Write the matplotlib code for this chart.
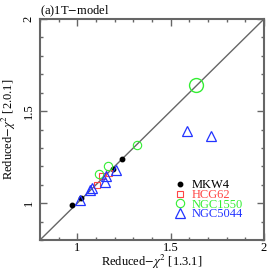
import matplotlib
matplotlib.use("Agg")
import matplotlib.pyplot as plt
from matplotlib.ticker import MultipleLocator

plt.rcParams["font.family"] = ["Liberation Serif", "DejaVu Serif"]
plt.rcParams["mathtext.fontset"] = "stix"

# values: (x = [1.3.1], y = [2.0.1])
mkw4_x = [0.972, 1.022, 1.19, 1.24]
mkw4_y = [0.99, 1.026, 1.185, 1.24]

hcg62_x = [1.108, 1.133, 1.168]
hcg62_y = [1.10, 1.148, 1.166]

ngc1550_x = [1.116, 1.162, 1.32]
ngc1550_y = [1.16, 1.202, 1.317]
ngc1550_big_x = [1.637]
ngc1550_big_y = [1.64]

ngc5044_x = [1.016, 1.07, 1.08, 1.146, 1.152, 1.205, 1.59, 1.716]
ngc5044_y = [1.018, 1.072, 1.082, 1.115, 1.150, 1.182, 1.39, 1.362]

names = ["MKW4", "HCG62", "NGC1550", "NGC5044"]

lim = [0.8, 2.0]
grey = "#666666"
red = "#ff4444"
green = "#33ee33"
blue = "#2233ff"

fig = plt.figure(figsize=(2.74, 2.70), dpi=100)
ax = fig.add_axes([40 / 274, 30 / 270, 224 / 274, 221 / 270])

ax.plot(lim, lim, color=grey, lw=1.0, zorder=1)

ax.plot(mkw4_x, mkw4_y, "o", ms=3.2, color="black", mec="black", zorder=3)
ax.plot(hcg62_x, hcg62_y, "s", ms=5.0, mfc="none", mec=red, mew=0.8, zorder=3)
ax.plot(ngc1550_x, ngc1550_y, "o", ms=6.0, mfc="none", mec=green, mew=0.8, zorder=3)
ax.plot(ngc1550_big_x, ngc1550_big_y, "o", ms=10.0, mfc="none", mec=green, mew=1.0, zorder=3)
ax.plot(ngc5044_x, ngc5044_y, "^", ms=7.0, mfc="none", mec=blue, mew=0.9, zorder=3)

ax.set_xlim(lim)
ax.set_ylim(lim)
ax.xaxis.set_minor_locator(MultipleLocator(0.1))
ax.yaxis.set_minor_locator(MultipleLocator(0.1))
ax.set_xticks([1, 1.5, 2])
ax.set_xticklabels(["1", "1.5", "2"])
ax.set_yticks([1, 1.5, 2])
ax.set_yticklabels(["1", "1.5", "2"], rotation=90, va="center")

ax.tick_params(which="both", direction="in", top=True, right=True,
               color=grey, labelsize=9)
ax.tick_params(axis="x", pad=1.5)
ax.tick_params(axis="y", pad=4)
ax.tick_params(which="major", length=5, width=1.0)
ax.tick_params(which="minor", length=2.5, width=1.0)
for s in ax.spines.values():
    s.set_color(grey)
    s.set_linewidth(1.5)

ax.set_xlabel(r"Reduced$-\chi^2$ [1.3.1]", fontsize=9, labelpad=-1)
ax.set_ylabel(r"Reduced$-\chi^2$ [2.0.1]", fontsize=9, labelpad=3)
ax.set_title("(a)1T$-$model", fontsize=9, loc="left", pad=2)

handles = [
    ax.plot([], [], "o", ms=3.2, color="black")[0],
    ax.plot([], [], "s", ms=5.0, mfc="none", mec=red, mew=0.8)[0],
    ax.plot([], [], "o", ms=6.0, mfc="none", mec=green, mew=0.8)[0],
    ax.plot([], [], "^", ms=7.0, mfc="none", mec=blue, mew=0.9)[0],
]
leg = ax.legend(handles, names, loc="upper left", bbox_to_anchor=(0.598, 0.274),
                frameon=False, fontsize=9, handlelength=0.95, handletextpad=0.45,
                labelspacing=-0.19, borderpad=0, borderaxespad=0)
for t, c in zip(leg.get_texts(), ["black", red, green, blue]):
    t.set_color(c)

fig.savefig("out.png", dpi=100)
